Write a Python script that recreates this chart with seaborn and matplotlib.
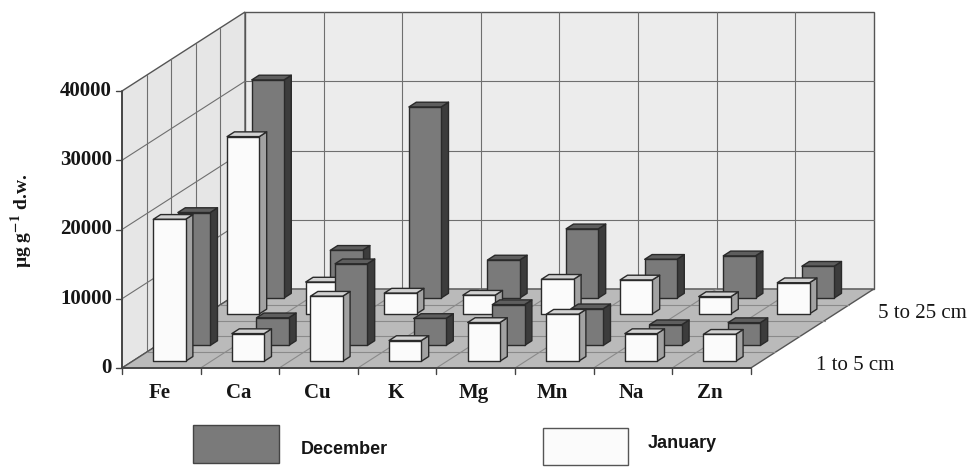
import matplotlib
matplotlib.use("Agg")
import matplotlib.pyplot as plt
from matplotlib.patches import Polygon, Rectangle
import seaborn as sns

# ---------------- data ----------------
elements = ["Fe", "Ca", "Cu", "K", "Mg", "Mn", "Na", "Zn"]
depth_labels = ["1 to 5 cm", "5 to 25 cm"]
months = ["December", "January"]
jan_1_5 = [20500, 4000, 9400, 3000, 5600, 6800, 4000, 3900]
dec_1_5 = [19200, 4000, 11800, 3900, 5900, 5300, 3000, 3300]
jan_5_25 = [25600, 4600, 3000, 2700, 5000, 4900, 2500, 4500]
dec_5_25 = [31500, 6900, 27600, 5500, 10000, 5600, 6100, 4600]
y_ticks = [0, 10000, 20000, 30000, 40000]
y_max = 40000

# ---------------- style ----------------
sns.set_style("white")
plt.rcParams["font.family"] = ["Liberation Serif", "DejaVu Serif"]
plt.rcParams["mathtext.fontset"] = "stix"

pal = sns.color_palette(["#7a7a7a", "#fbfbfb"])
dark_front, white_front = pal[0], pal[1]
face_colors = {
    "December": (dark_front, "#5e5e5e", "#3c3c3c"),
    "January": (white_front, "#d2d2d2", "#a2a2a2"),
}

# layout (pixel geometry of the oblique 3-D box)
W, H = 971, 468
PXC = 78.6            # px per category
PVU = 69.25 / 10000   # px per value unit
OX, OY = 122, 368     # pixel of the front-left origin
DX = 123 / PXC        # category units shifted per full depth
DY = 79 / PVU         # value units shifted per full depth


def P(x, v, d=0.0):
    return (x + d * DX, v + d * DY)


def px_x(px):
    return (px - OX) / PXC


def px_y(py):
    return (OY - py) / PVU


fig = plt.figure(figsize=(W / 100, H / 100), dpi=100)
ax = fig.add_axes([0, 0, 1, 1])
ax.set_xlim(px_x(0), px_x(W))
ax.set_ylim(px_y(H), px_y(0))
ax.axis("off")

n = len(elements)
wall_c, lwall_c, floor_c = "#ececec", "#e6e6e6", "#bababa"
grid_c, edge_c = "#6f6f6f", "#555555"
txt_c = "#161616"

# walls & floor
ax.add_patch(Polygon([P(0, 0, 1), P(n, 0, 1), P(n, y_max, 1), P(0, y_max, 1)],
                     closed=True, fc=wall_c, ec=edge_c, lw=1.0, zorder=0))
ax.add_patch(Polygon([P(0, 0, 0), P(0, 0, 1), P(0, y_max, 1), P(0, y_max, 0)],
                     closed=True, fc=lwall_c, ec=edge_c, lw=1.0, zorder=0))
ax.add_patch(Polygon([P(0, 0, 0), P(n, 0, 0), P(n, 0, 1), P(0, 0, 1)],
                     closed=True, fc=floor_c, ec=edge_c, lw=1.0, zorder=1))

# gridlines
for v in y_ticks[1:-1]:
    ax.plot(*zip(P(0, v, 1), P(n, v, 1)), color=grid_c, lw=0.8, zorder=0.5)
    ax.plot(*zip(P(0, v, 0), P(0, v, 1)), color=grid_c, lw=0.8, zorder=0.5)
for k in range(1, n):
    ax.plot(*zip(P(k, 0, 1), P(k, y_max, 1)), color=grid_c, lw=0.8, zorder=0.5)
    ax.plot(*zip(P(k, 0, 0), P(k, 0, 1)), color="#8a8a8a", lw=0.8, zorder=1.5)
for d in [0.2, 0.4, 0.6, 0.8]:
    ax.plot(*zip(P(0, 0, d), P(0, y_max, d)), color=grid_c, lw=0.8, zorder=0.5)
    ax.plot(*zip(P(0, 0, d), P(n, 0, d)), color="#8a8a8a", lw=0.8, zorder=1.5)

# axes lines & ticks
ax.plot(*zip(P(0, 0), P(0, y_max)), color="#444444", lw=1.3, zorder=3)
ax.plot(*zip(P(0, 0), P(n, 0)), color="#444444", lw=1.3, zorder=3)
tick_dx = 6 / PXC
tick_dv = 6 / PVU
for v in y_ticks:
    ax.plot([-tick_dx, 0], [v, v], color="#444444", lw=1.0, zorder=3)
    ax.text(px_x(112), v, f"{v}", ha="right", va="center",
            fontsize=15, fontweight="bold", color=txt_c)
for k in range(n + 1):
    ax.plot([k, k], [0, -tick_dv], color="#444444", lw=1.0, zorder=3)
for i, el in enumerate(elements):
    ax.text(i + 0.48, px_y(393), el, ha="center", va="center",
            fontsize=15, fontweight="bold", color=txt_c)

ax.text(px_x(22), px_y(221), r"µg g$^{\mathbf{-1}}$ d.w.", rotation=90,
        ha="center", va="center", fontsize=14, fontweight="bold", color=txt_c)

ax.text(px_x(816), px_y(365), depth_labels[0], ha="left", va="center",
        fontsize=15, color=txt_c)
ax.text(px_x(878), px_y(313), depth_labels[1], ha="left", va="center",
        fontsize=15, color=txt_c)

# bars (drawn back to front)
series = [
    (dec_5_25, "December", 0.885),
    (jan_5_25, "January", 0.685),
    (dec_1_5, "December", 0.285),
    (jan_1_5, "January", 0.085),
]
bw, bt, bc = 0.41, 0.06, 0.47
z = 10
for vals, month, d0 in series:
    fcol, tcol, scol = face_colors[month]
    d1 = d0 + bt
    for i, h in enumerate(vals):
        x0, x1 = i + bc - bw / 2, i + bc + bw / 2
        front = [P(x0, 0, d0), P(x1, 0, d0), P(x1, h, d0), P(x0, h, d0)]
        top = [P(x0, h, d0), P(x1, h, d0), P(x1, h, d1), P(x0, h, d1)]
        side = [P(x1, 0, d0), P(x1, 0, d1), P(x1, h, d1), P(x1, h, d0)]
        for poly, c in [(side, scol), (top, tcol), (front, fcol)]:
            ax.add_patch(Polygon(poly, closed=True, fc=c, ec="#2a2a2a",
                                 lw=1.0, joinstyle="round", zorder=z))
        z += 0.01
    z += 1

# legend
ax.add_patch(Rectangle((px_x(193), px_y(463)), (279 - 193) / PXC, (463 - 425) / PVU,
                       fc=face_colors["December"][0], ec="#444444", lw=1.0))
ax.text(px_x(301), px_y(450), months[0], ha="left", va="center",
        fontsize=13, fontweight="bold", family="Liberation Sans", color=txt_c)
ax.add_patch(Rectangle((px_x(543), px_y(465)), (628 - 543) / PXC, (465 - 428) / PVU,
                       fc=face_colors["January"][0], ec="#555555", lw=1.0))
ax.text(px_x(648), px_y(443), months[1], ha="left", va="center",
        fontsize=13, fontweight="bold", family="Liberation Sans", color=txt_c)

fig.savefig("out.png", dpi=100, facecolor="white")
